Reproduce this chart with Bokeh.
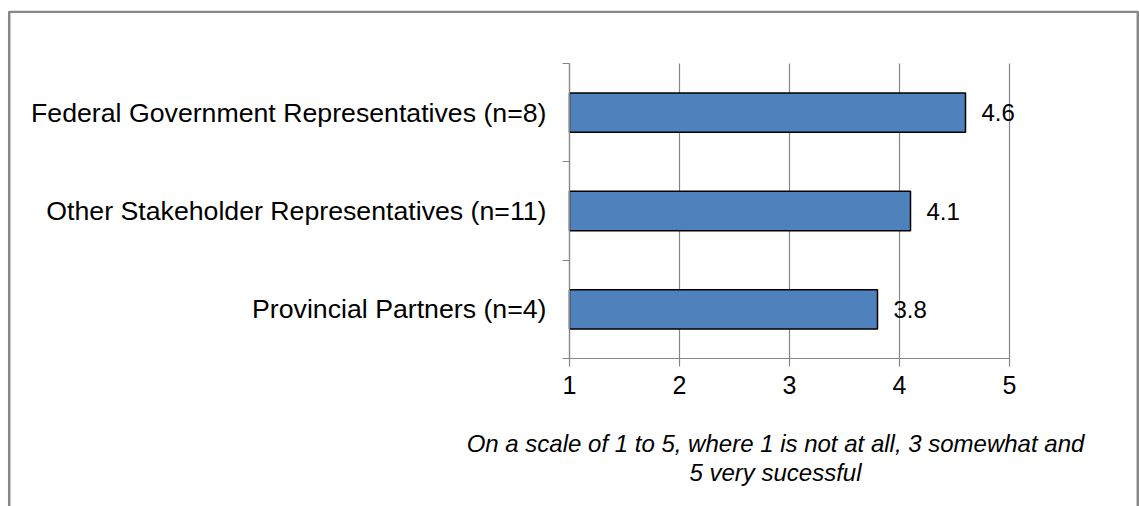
from bokeh.plotting import figure
from bokeh.models import FixedTicker, Label, BoxAnnotation, ColumnDataSource, LabelSet
from bokeh.core.properties import value
from bokeh.embed import file_html
from bokeh.resources import INLINE

# ---- data ----
categories = [
    "Provincial Partners (n=4)",
    "Other Stakeholder Representatives (n=11)",
    "Federal Government Representatives (n=8)",
]
scores = [3.8, 4.1, 4.6]
score_labels = ["3.8", "4.1", "4.6"]
x_ticks = [1, 2, 3, 4, 5]
footnote_lines = [
    "On a scale of 1 to 5, where 1 is not at all, 3 somewhat and",
    "5 very sucessful",
]

# ---- layout (pixels) ----
W, H = 1139, 506
PLOT_L, PLOT_R, PLOT_T, PLOT_B = 569, 1009, 63, 358    # plotting area
FL, FR, FT, FB = 7, W, 10, H                           # bokeh frame = outer chart box
GRAY = "#868686"
FONT = "Liberation Sans"

px_per_x = (PLOT_R - PLOT_L) / (x_ticks[-1] - x_ticks[0])
px_per_y = (PLOT_B - PLOT_T) / len(categories)
def dx(px):
    return x_ticks[0] + (px - PLOT_L) / px_per_x
def dy(py):
    return (PLOT_B - py) / px_per_y

p = figure(
    width=W, height=H,
    x_range=(dx(FL), dx(FR)), y_range=(dy(FB), dy(FT)),
    output_backend="svg", toolbar_location=None,
    min_border_left=FL, min_border_right=W - FR,
    min_border_top=FT, min_border_bottom=H - FB,
)
p.outline_line_color = None
p.background_fill_color = "white"
p.border_fill_color = "white"
p.xgrid.visible = False
p.ygrid.visible = False

ys = [i + 0.5 for i in range(len(categories))]
src = ColumnDataSource(dict(y=ys, score=scores, label=score_labels, cat=categories))

# vertical gridlines at the x ticks
p.segment(x0=x_ticks, y0=[0] * len(x_ticks), x1=x_ticks, y1=[len(categories)] * len(x_ticks),
          line_color=GRAY, line_width=1.2)

p.hbar(y="y", left=x_ticks[0], right="score", height=0.4, source=src,
       fill_color="#4F81BD", line_color="black", line_width=1.5)

p.add_layout(LabelSet(x="score", y="y", text="label", source=src, x_offset=16,
                      text_baseline="middle", text_align="left",
                      text_font=value(FONT), text_font_size="24px", text_color="black"))

# x axis
p.xaxis.fixed_location = 0
p.xaxis.bounds = (x_ticks[0], x_ticks[-1])
p.xaxis.ticker = FixedTicker(ticks=x_ticks)
p.xaxis.axis_line_color = GRAY
p.xaxis.axis_line_width = 1.2
p.xaxis.major_tick_line_color = GRAY
p.xaxis.major_tick_line_width = 1.2
p.xaxis.major_tick_out = 8
p.xaxis.major_tick_in = 0
p.xaxis.minor_tick_line_color = None
p.xaxis.major_label_text_font = FONT
p.xaxis.major_label_text_font_size = "25px"
p.xaxis.major_label_text_color = "black"
p.xaxis.major_label_standoff = 9

# y axis
p.yaxis.fixed_location = x_ticks[0]
p.yaxis.bounds = (0, len(categories))
p.yaxis.ticker = FixedTicker(ticks=ys, minor_ticks=list(range(len(categories) + 1)))
p.yaxis.major_label_overrides = {y: c for y, c in zip(ys, categories)}
p.yaxis.axis_line_color = GRAY
p.yaxis.axis_line_width = 1.2
p.yaxis.major_tick_line_color = None
p.yaxis.major_tick_out = 0
p.yaxis.major_tick_in = 0
p.yaxis.minor_tick_line_color = GRAY
p.yaxis.minor_tick_line_width = 1.2
p.yaxis.minor_tick_out = 7
p.yaxis.minor_tick_in = 0
p.yaxis.major_label_text_font = FONT
p.yaxis.major_label_text_font_size = "26.7px"
p.yaxis.major_label_text_color = "black"
p.yaxis.major_label_standoff = 16

# outer chart border (bottom edge lies below the page)
p.add_layout(BoxAnnotation(
    left=dx(8.7), right=dx(1137.3), top=dy(11.3), bottom=dy(H + 20),
    fill_color=None, fill_alpha=0, line_color="#878787", line_alpha=1.0, line_width=2.5,
))

# footnote
for line, base in zip(footnote_lines, [443, 472]):
    p.add_layout(Label(x=dx(775), y=dy(base),
                       text=line, text_align="center", text_baseline="alphabetic",
                       text_font=FONT, text_font_style="italic",
                       text_font_size="24px", text_color="black"))

open("out.html", "w").write(file_html(p, INLINE))
